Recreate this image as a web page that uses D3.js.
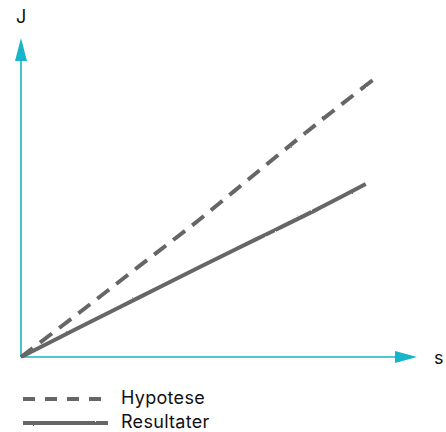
<!DOCTYPE html>
<html>
<head>
<meta charset="utf-8">
<script src="https://cdn.jsdelivr.net/npm/d3@7"></script>
<style>
  html, body { margin: 0; padding: 0; background: #fff; }
  svg { display: block; }
  text { font-family: Inter, "Noto Sans", sans-serif; fill: #111; }
</style>
</head>
<body>
<svg id="chart" width="446" height="432"></svg>
<script>
// Data (arbitrary units)
const xLabel = "s";
const yLabel = "J";
const seriesNames = ["Hypotese", "Resultater"];
const hypoteseX = [0, 1.5, 3, 4.5, 6, 7.5, 9];
const hypoteseY = [0, 1.41, 2.85, 4.28, 5.8, 7.3, 8.75];
const resultaterX = [0, 1.5, 3, 4.5, 6, 7.5, 8.75];
const resultaterY = [0, 0.94, 1.87, 2.8, 3.71, 4.62, 5.42];

const svg = d3.select("#chart");
const axisColor = "#16b5c9";
const lineColor = "#666666";

const x = d3.scaleLinear().domain([0, 10]).range([21, 415]);
const y = d3.scaleLinear().domain([0, 10]).range([357, 38]);

const defs = svg.append("defs");
const f = defs.append("filter").attr("id", "rough")
  .attr("filterUnits", "userSpaceOnUse")
  .attr("x", 0).attr("y", 0).attr("width", 446).attr("height", 432);
f.append("feTurbulence").attr("type", "fractalNoise").attr("baseFrequency", 0.8)
  .attr("numOctaves", 2).attr("seed", 3).attr("result", "noise");
f.append("feDisplacementMap").attr("in", "SourceGraphic").attr("in2", "noise")
  .attr("scale", 1.6).attr("xChannelSelector", "R").attr("yChannelSelector", "G");

// Axes
const x0 = x(0), y0 = y(0);
svg.append("line").attr("x1", x0).attr("y1", y0).attr("x2", 397).attr("y2", y0)
  .attr("stroke", axisColor).attr("stroke-width", 1.6);
svg.append("line").attr("x1", x0).attr("y1", y0).attr("x2", x0).attr("y2", 58)
  .attr("stroke", axisColor).attr("stroke-width", 1.6);
svg.append("path").attr("d", `M395,${y0-6} L417,${y0} L395,${y0+6} Z`).attr("fill", axisColor);
svg.append("path").attr("d", `M${x0-6},61 L${x0},38 L${x0+6},61 Z`).attr("fill", axisColor);

svg.append("text").attr("x", 434).attr("y", 364).attr("font-size", 18).text(xLabel);
svg.append("text").attr("x", 16).attr("y", 23).attr("font-size", 18).text(yLabel);

const line = d3.line().x(d => x(d[0])).y(d => y(d[1])).curve(d3.curveCatmullRom);

svg.append("path")
  .datum(d3.zip(hypoteseX, hypoteseY))
  .attr("d", line)
  .attr("fill", "none").attr("stroke", lineColor).attr("stroke-width", 4)
  .attr("stroke-dasharray", "15,9").attr("filter", "url(#rough)");

svg.append("path")
  .datum(d3.zip(resultaterX, resultaterY))
  .attr("d", line)
  .attr("fill", "none").attr("stroke", lineColor).attr("stroke-width", 4)
  .attr("filter", "url(#rough)");

// Legend
const legend = svg.append("g");
const ly = [399, 423];
legend.append("line").attr("x1", 23).attr("x2", 108).attr("y1", ly[0]).attr("y2", ly[0])
  .attr("stroke", lineColor).attr("stroke-width", 3.8).attr("stroke-dasharray", "12,10")
  .attr("filter", "url(#rough)");
legend.append("line").attr("x1", 23).attr("x2", 108).attr("y1", ly[1]).attr("y2", ly[1])
  .attr("stroke", lineColor).attr("stroke-width", 3.8).attr("filter", "url(#rough)");
seriesNames.forEach((n, i) => {
  legend.append("text").attr("x", 121).attr("y", ly[i] + 5).attr("font-size", 18)
    .attr("letter-spacing", 0.3).text(n);
});
</script>
</body>
</html>
